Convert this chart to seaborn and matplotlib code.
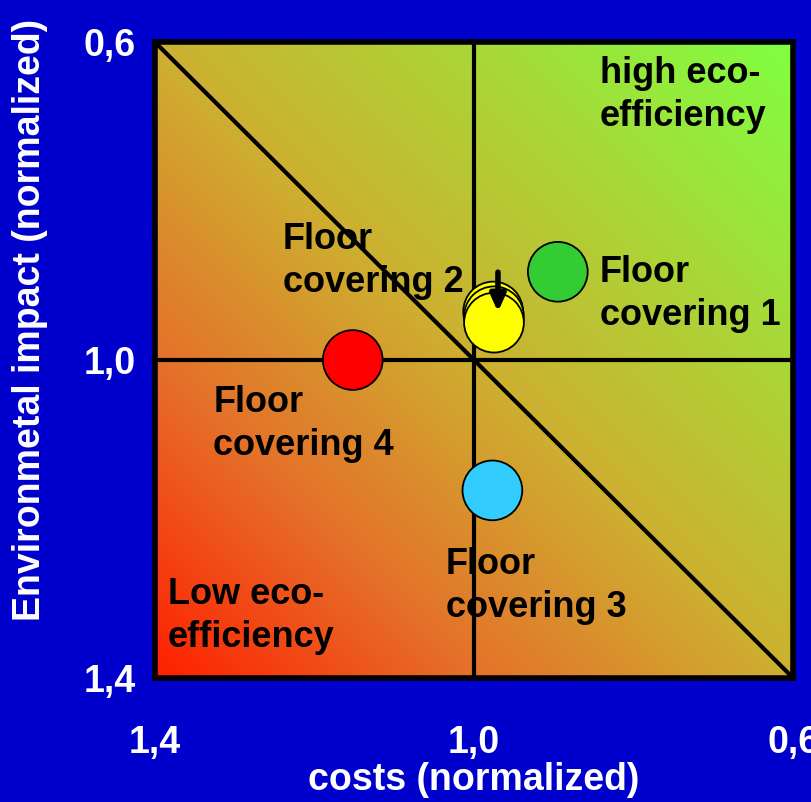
import numpy as np
import pandas as pd
import matplotlib
matplotlib.use("Agg")
import matplotlib.pyplot as plt
from matplotlib.colors import LinearSegmentedColormap
import seaborn as sns

# data: costs (x) and environmental impact (y), both normalized
products = ["Floor covering 1", "Floor covering 2", "Floor covering 2", "Floor covering 2",
            "Floor covering 3", "Floor covering 4"]
costs = [0.895, 0.976, 0.975, 0.975, 0.977, 1.152]
impact = [0.889, 0.939, 0.945, 0.953, 1.164, 1.000]
colors = {"Floor covering 1": "#33CC33", "Floor covering 2": "#FFFF00",
          "Floor covering 3": "#33CCFF", "Floor covering 4": "#FF0000"}
tick_vals = [1.4, 1.0, 0.6]
tick_labels = ["1,4", "1,0", "0,6"]

df = pd.DataFrame({"product": products, "costs": costs, "impact": impact})

sns.set_style("white")
plt.rcParams['font.family'] = ['Liberation Sans', 'DejaVu Sans']
bg = "#0000CC"

fig = plt.figure(figsize=(8.11, 8.02), dpi=100, facecolor=bg)
ax = fig.add_axes([0.191, 0.1546, 0.787, 0.793])

# background gradient, red (low eco-efficiency) to green (high)
cmap = LinearSegmentedColormap.from_list("eco", [(0, "#FF2000"), (0.25, "#E5702A"),
                                                 (0.5, "#CDB030"), (0.75, "#A8D838"),
                                                 (1, "#80FF40")])
n = 300
jj, ii = np.meshgrid(np.linspace(0, 1, n), np.linspace(0, 1, n))
grad = (jj + 1 - ii) / 2
ax.imshow(grad, cmap=cmap, extent=(1.4, 0.6, 1.4, 0.6), origin="upper",
          aspect="auto", zorder=0)

# quadrant lines and diagonal
ax.axvline(1.0, color="black", lw=3, zorder=1)
ax.axhline(1.0, color="black", lw=3, zorder=1)
ax.plot([1.4, 0.6], [0.6, 1.4], color="black", lw=3, zorder=1)

sns.scatterplot(data=df, x="costs", y="impact", hue="product", palette=colors,
                s=1850, edgecolor="black", linewidth=1.3, legend=False, ax=ax, zorder=3)

ax.annotate("", xy=(0.970, 0.943), xytext=(0.970, 0.886),
            arrowprops=dict(arrowstyle="-|>,head_width=0.45,head_length=1.0",
                            color="black", lw=4), zorder=4)

ax.set_xlim(1.4, 0.6)
ax.set_ylim(1.4, 0.6)

fs = 26
lab = dict(fontsize=fs, fontweight="bold", color="black", ha="left", va="top",
           linespacing=1.3, zorder=5)
ax.text(1.240, 0.826, "Floor\ncovering 2", **lab)
ax.text(0.842, 0.868, "Floor\ncovering 1", **lab)
ax.text(1.327, 1.031, "Floor\ncovering 4", **lab)
ax.text(1.035, 1.235, "Floor\ncovering 3", **lab)
ax.text(0.842, 0.618, "high eco-\nefficiency", **lab)
ax.text(1.384, 1.273, "Low eco-\nefficiency", **lab)

ax.set_xticks(tick_vals, tick_labels)
ax.set_yticks(tick_vals, tick_labels)
ax.set_xticks([1.0], minor=True)
ax.tick_params(axis="x", which="major", length=0, pad=34, labelsize=27,
               labelcolor="white")
ax.tick_params(axis="x", which="minor", length=9, width=2, color="black",
               bottom=True, direction="out")
ax.tick_params(axis="y", length=0, pad=14, labelsize=27, labelcolor="white")
for t in ax.get_xticklabels() + ax.get_yticklabels():
    t.set_fontweight("bold")

ax.set_xlabel("costs (normalized)", fontsize=27, fontweight="bold", color="white")
ax.set_ylabel("Environmetal impact (normalized)", fontsize=27, fontweight="bold",
              color="white")
ax.xaxis.set_label_coords(0.5, -0.160)
ax.xaxis.label.set_va("center")
ax.yaxis.set_label_coords(-0.196, 0.563)
ax.yaxis.label.set_va("center")

for s in ax.spines.values():
    s.set_color("black")
    s.set_linewidth(4)
    s.set_zorder(6)

fig.savefig("out.png", dpi=100, facecolor=bg)
